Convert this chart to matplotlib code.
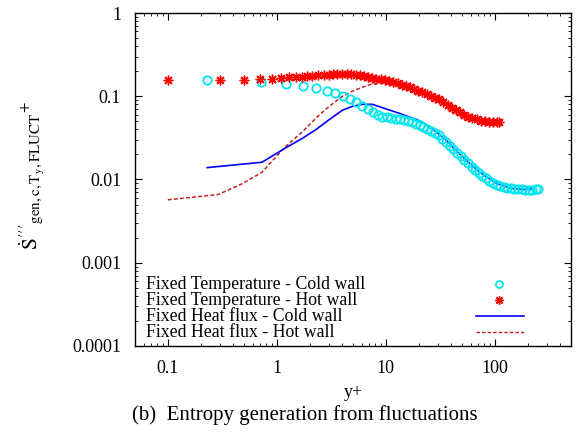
import matplotlib
matplotlib.use("Agg")
import matplotlib.pyplot as plt

plt.rcParams['font.family'] = ['Liberation Serif', 'DejaVu Serif']
plt.rcParams['mathtext.fontset'] = 'stix'

# Fixed Temperature - Cold wall (circles)
yp_tc = [0.23, 0.71, 1.21, 1.73, 2.28, 2.87, 3.45, 4.05, 4.65, 5.3, 6.0, 6.8, 7.6, 8.4,
         9.3, 10.2, 11.2, 12.3, 13.4, 14.6, 15.9, 17.3, 18.8, 20.4, 22.1, 24.0, 26.0,
         28.2, 30.5, 33.0, 35.7, 38.6, 41.7, 45.0, 48.6, 52.5, 56.7, 61.2, 66.0, 71.2,
         76.8, 82.8, 89.3, 96.3, 104, 112, 121, 130, 140, 151, 163, 176, 190, 205, 221,
         238, 250]
s_tc = [0.156, 0.148, 0.140, 0.132, 0.125, 0.115, 0.108, 0.100, 0.092, 0.085, 0.077,
        0.070, 0.064, 0.059, 0.057, 0.056, 0.055, 0.054, 0.053, 0.052, 0.050, 0.049,
        0.047, 0.045, 0.043, 0.040, 0.038, 0.036, 0.034, 0.031, 0.028, 0.025, 0.023,
        0.021, 0.019, 0.0172, 0.0156, 0.0142, 0.0130, 0.0119, 0.0110, 0.0103, 0.0096,
        0.0091, 0.0087, 0.0084, 0.0081, 0.0079, 0.0078, 0.0077, 0.0076, 0.0076, 0.0075,
        0.0075, 0.0075, 0.0076, 0.0076]

# Fixed Temperature - Hot wall (stars)
yp_th = [0.1, 0.3, 0.5, 0.7, 0.9, 1.1, 1.3, 1.5, 1.7, 1.9, 2.1, 2.4, 2.7, 3.0, 3.3, 3.6,
         4.0, 4.4, 4.8, 5.3, 5.8, 6.3, 6.9, 7.5, 8.2, 9.0, 9.8, 10.7, 11.7, 12.8, 14.0,
         15.3, 16.7, 18.2, 19.9, 21.7, 23.7, 25.9, 28.3, 30.9, 33.7, 36.8, 40.2, 43.9,
         47.9, 52.3, 57.1, 62.3, 68.0, 74.2, 81.0, 88.4, 96.5, 105, 110]
s_th = [0.155, 0.157, 0.158, 0.160, 0.163, 0.165, 0.168, 0.170, 0.172, 0.174, 0.176,
        0.178, 0.180, 0.182, 0.183, 0.184, 0.184, 0.184, 0.183, 0.181, 0.178, 0.175,
        0.171, 0.167, 0.163, 0.159, 0.156, 0.152, 0.148, 0.143, 0.138, 0.133, 0.128,
        0.122, 0.117, 0.111, 0.106, 0.101, 0.096, 0.092, 0.086, 0.079, 0.073, 0.068,
        0.064, 0.060, 0.057, 0.055, 0.053, 0.051, 0.050, 0.049, 0.049, 0.049, 0.049]

# Fixed Heat flux - Cold wall
yp_qc = [0.23, 0.73, 1.18, 1.7, 2.3, 3.0, 4.0, 5.0, 6.1, 7.5, 9.0, 10.9, 13.5, 16.0,
         19.2, 22.0, 25.4, 30.0, 36.0, 43.0, 51.0, 61.0, 73.0, 87.0, 104, 123, 145,
         180, 223]
s_qc = [0.0139, 0.0161, 0.0236, 0.031, 0.040, 0.052, 0.068, 0.076, 0.080, 0.080, 0.074,
        0.068, 0.062, 0.057, 0.0525, 0.048, 0.0427, 0.036, 0.0295, 0.023, 0.0186, 0.015,
        0.0122, 0.0104, 0.0090, 0.0083, 0.0078, 0.0076, 0.0077]

# Fixed Heat flux - Hot wall
yp_qh = [0.1, 0.29, 0.49, 0.73, 1.18, 1.7, 2.33, 3.0, 4.0, 5.0, 6.1, 7.1, 8.8, 10.0,
         15.0, 20.0, 30.0, 50.0, 100.0]
s_qh = [0.0057, 0.0066, 0.0090, 0.0122, 0.0243, 0.037, 0.056, 0.075, 0.100, 0.116,
        0.128, 0.138, 0.143, 0.145, 0.130, 0.115, 0.090, 0.060, 0.048]

labels = ["Fixed Temperature - Cold wall", "Fixed Temperature - Hot wall",
          "Fixed Heat flux - Cold wall", "Fixed Heat flux - Hot wall"]

W, H = 578, 432
fig = plt.figure(figsize=(W / 100, H / 100), dpi=100)
ax = fig.add_axes([0.2336, 0.1991, 0.7543, 0.7708])

cyan = '#00e5ee'
red = '#ff0000'
blue = '#0000ff'
dred = '#c02020'

ax.plot(yp_qh, s_qh, color=dred, lw=1.1, ls=(0, (2.5, 1.5)))
ax.plot(yp_qc, s_qc, color=blue, lw=1.2)
ax.plot(yp_tc, s_tc, ls='none', marker='o', ms=6, mfc='none', mec=cyan, mew=1.3)
ax.plot(yp_th, s_th, ls='none', marker=(8, 2, 0), ms=7, mec=red, mew=1.0)

ax.set_xscale('log')
ax.set_yscale('log')
ax.set_xlim(0.05, 500)
ax.set_ylim(0.0001, 1)
ax.set_xticks([0.1, 1, 10, 100])
ax.set_xticklabels(['0.1', '1', '10', '100'])
ax.set_yticks([0.0001, 0.001, 0.01, 0.1, 1])
ax.set_yticklabels(['0.0001', '0.001', '0.01', '0.1', '1'])
ax.tick_params(which='both', direction='in', top=True, right=True, labelsize=13)
ax.tick_params(which='major', length=5, width=0.8, pad=10)
ax.tick_params(which='minor', length=2.5, width=0.6)
for sp in ax.spines.values():
    sp.set_linewidth(1.0)

ax.set_xlabel('y+', fontsize=13, labelpad=5)

# y label placed by hand, as gnuplot puts it
fig.text(38 / W, 1 - 250 / H, r"$\dot{\mathrm{S}}'''_{\mathrm{gen,c,T_y,FLUCT}}{}^{+}$",
         fontsize=15.5, rotation=90, rotation_mode='anchor', ha='left', va='baseline')

# gnuplot-style key: text left, sample right
rows = [0.186, 0.137, 0.090, 0.042]
for lab, yr in zip(labels, rows):
    ax.text(0.025, yr, lab, transform=ax.transAxes, fontsize=12.8, va='center', ha='left')
ax.plot([0.835], [rows[0]], transform=ax.transAxes, ls='none', marker='o', ms=5,
        mfc='none', mec=cyan, mew=1.3)
ax.plot([0.835], [rows[1]], transform=ax.transAxes, ls='none', marker=(8, 2, 0), ms=6,
        mec=red, mew=1.0)
ax.plot([0.782, 0.892], [rows[2]] * 2, transform=ax.transAxes, color=blue, lw=1.2)
ax.plot([0.782, 0.892], [rows[3]] * 2, transform=ax.transAxes, color=dred, lw=1.0,
        ls=(0, (2.5, 1.5)))

fig.text(0.528, 0.039, "(b)  Entropy generation from fluctuations", fontsize=15,
         ha='center', va='center')

fig.savefig('out.png', dpi=100)
